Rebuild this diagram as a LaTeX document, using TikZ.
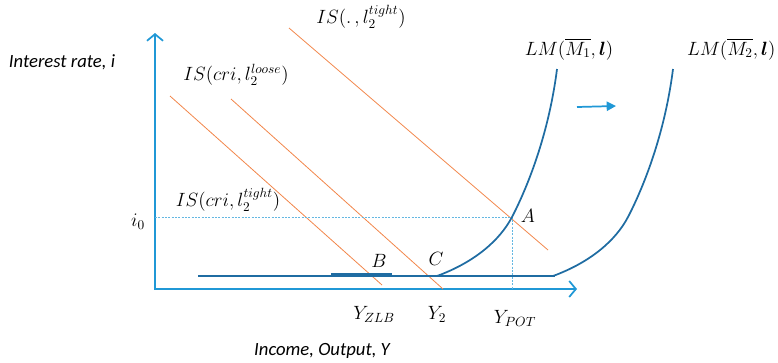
\documentclass[tikz,border=0pt]{standalone}
\usepackage{amsmath,amssymb,bm}
\usepackage{fontspec}
\newfontfamily\labelfont{Carlito}
\usetikzlibrary{arrows.meta}
\definecolor{axisblue}{RGB}{32,152,214}
\definecolor{lmblue}{RGB}{31,108,162}
\definecolor{isorange}{RGB}{242,134,74}
\tikzstyle{axis}=[axisblue, line width=1.3pt, {Straight Barb[length=5pt,width=12pt]}-{Straight Barb[length=5pt,width=12pt]}]
\tikzstyle{lm}=[lmblue, line width=1.3pt]
\tikzstyle{is}=[isorange, line width=0.6pt]
\tikzstyle{guide}=[axisblue!70, dash pattern=on 1.5pt off 1pt, line width=0.5pt]
\tikzstyle{lbl}=[font=\fontsize{14.5}{17}\selectfont, inner sep=1pt]
\tikzstyle{txt}=[font=\labelfont\itshape\fontsize{14}{16}\selectfont]

\begin{document}
\begin{tikzpicture}[x=0.75pt,y=-0.75pt]
\useasboundingbox (0,0) rectangle (778,362);
%\draw[help lines] (0,0) grid[step=50] (778,362);
% axes
\coordinate (O) at (155,289);
\coordinate (ytop) at (155,33);
\coordinate (xend) at (577,289);
\draw[axis] (ytop) -- (O) -- (xend);
\node[txt] (ilabel) at (62,62) {Interest rate, i};
\node[txt] (ylabel) at (322,351) {Income, Output, Y};
% IS curves
\draw[is] (170,96) -- (382,285);
\draw[is] (231,99) -- (443,289);
\draw[is] (289,28) -- (548,250);
\node[lbl] (is1) at (228,200) {$IS(cri,l_2^{tight})$};
\node[lbl] (is2) at (236,75) {$IS(cri,l_2^{loose})$};
\node[lbl] (is3) at (361,17) {$IS(.\,,l_2^{tight})$};
% zero lower bound
\draw[lm] (198,276) -- (555,276);
\draw[lm, line width=2.6pt] (331,275) -- (392,275);
% LM curves
\coordinate (A) at (512,217);
\draw[guide] (O |- A) -- (A) -- (A |- O);
\draw[lm] (437,276) .. controls (475,262) and (500,240) .. (512,217)
       .. controls (524,194) and (548,140) .. (557,69);
\begin{scope}[xshift=87pt]
\draw[lm] (437,276) .. controls (475,262) and (500,240) .. (512,217)
       .. controls (524,194) and (548,140) .. (557,69);
\end{scope}
\node[lbl] (lm1) at (569,49) {$LM(\overline{M_1},\bm{l})$};
\node[lbl, anchor=east] (lm2) at (777,49) {$LM(\overline{M_2},\bm{l})$};
\coordinate (sfrom) at (577,107);
\coordinate (sto) at (616,106);
\draw[axisblue, line width=1.3pt, -{Triangle[length=7pt,width=7pt]}] (sfrom) -- (sto);
% points and levels
\node[lbl] (ptA) at (528,216) {$A$};
\node[lbl] (ptB) at (379,261) {$B$};
\node[lbl] (ptC) at (436,259) {$C$};
\node[lbl] (izero) at (138,222) {$i_0$};
\node[lbl] (yzlb) at (374,314) {$Y_{ZLB}$};
\node[lbl] (ytwo) at (437,314) {$Y_2$};
\node[lbl] (ypot) at (515,318) {$Y_{POT}$};
\end{tikzpicture}
\end{document}
